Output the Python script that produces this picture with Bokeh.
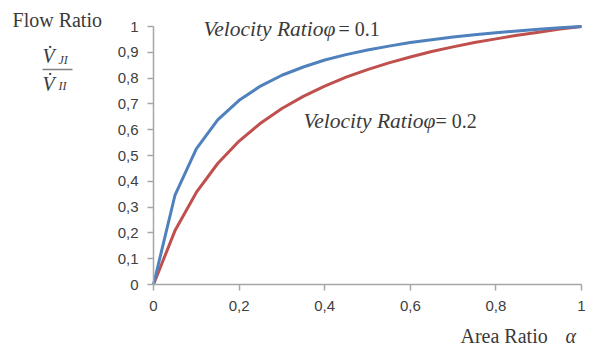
from bokeh.plotting import figure
from bokeh.models import Range1d, FixedTicker, Label, BoxAnnotation
from bokeh.embed import file_html
from bokeh.resources import INLINE

# ---- data ----
area_ratio = [0.0, 0.05, 0.1, 0.15, 0.2, 0.25, 0.3, 0.35, 0.4, 0.45, 0.5,
              0.55, 0.6, 0.65, 0.7, 0.75, 0.8, 0.85, 0.9, 0.95, 1.0]
flow_phi_01 = [0.0, 0.345, 0.526, 0.638, 0.714, 0.769, 0.811, 0.843, 0.870, 0.891, 0.909,
               0.924, 0.938, 0.949, 0.959, 0.968, 0.976, 0.983, 0.989, 0.995, 1.0]
flow_phi_02 = [0.0, 0.208, 0.357, 0.469, 0.556, 0.625, 0.682, 0.729, 0.769, 0.804, 0.833,
               0.859, 0.882, 0.903, 0.921, 0.938, 0.952, 0.966, 0.978, 0.990, 1.0]

x_ticks = [0.0, 0.2, 0.4, 0.6, 0.8, 1.0]
x_tick_labels = ["0", "0,2", "0,4", "0,6", "0,8", "1"]
y_ticks = [0.0, 0.1, 0.2, 0.3, 0.4, 0.5, 0.6, 0.7, 0.8, 0.9, 1.0]
y_tick_labels = ["0", "0,1", "0,2", "0,3", "0,4", "0,5", "0,6", "0,7", "0,8", "0,9", "1"]

label_phi_01 = "Velocity Ratio\u03c6"
value_phi_01 = "= 0.1"
label_phi_02 = "Velocity Ratio\u03c6"
value_phi_02 = "= 0.2"
y_title = "Flow Ratio"
y_num_sym, y_num_sub = "V\u0307", "JI"
y_den_sym, y_den_sub = "V\u0307", "II"
x_title = "Area Ratio"
x_symbol = "\u03b1"

BLUE = "#4f81bd"
RED = "#c0504d"
AXIS = "#a6a6a6"
TICKTXT = "#404040"
TXT = "#3a3a3a"
SERIF = "Liberation Serif"

# frame covers the whole canvas; the axes are pinned at data 0
p = figure(width=592, height=346, output_backend="svg", toolbar_location=None,
           x_range=Range1d(-0.3575, 1.0257), y_range=Range1d(-0.2403, 1.1008),
           min_border=0)
p.outline_line_color = None
p.xgrid.visible = False
p.ygrid.visible = False
p.background_fill_color = "white"
p.border_fill_color = "white"

p.line(area_ratio, flow_phi_02, line_color=RED, line_width=3)
p.line(area_ratio, flow_phi_01, line_color=BLUE, line_width=3)

for ax, ticks, labels in ((p.xaxis[0], x_ticks, x_tick_labels), (p.yaxis[0], y_ticks, y_tick_labels)):
    ax.fixed_location = 0
    ax.bounds = (0, 1)
    ax.ticker = FixedTicker(ticks=ticks)
    ax.major_label_overrides = {t: l for t, l in zip(ticks, labels)}
    ax.minor_tick_line_color = None
    ax.axis_line_color = AXIS
    ax.axis_line_width = 1.5
    ax.major_tick_line_color = AXIS
    ax.major_tick_line_width = 1.5
    ax.major_tick_in = 0
    ax.major_tick_out = 6
    ax.major_label_text_font = "Liberation Sans"
    ax.major_label_text_font_size = "15px"
    ax.major_label_text_color = TICKTXT

p.yaxis[0].major_label_standoff = 9
p.xaxis[0].major_label_standoff = 10

def lab(x, y, text, size="20px", style="normal", **kw):
    p.add_layout(Label(x=x, y=y, text=text, text_font=SERIF, text_font_size=size,
                       text_font_style=style, text_color=TXT, text_align="left",
                       text_baseline="alphabetic", **kw))

# in-plot annotations
lab(0.1168, 0.992, label_phi_01, size="21.5px", style="italic")
lab(0.4322, 0.992, value_phi_01)
lab(0.3505, 0.635, label_phi_02, size="21.5px", style="italic")
lab(0.6589, 0.635, value_phi_02)

# y title with fraction
lab(-0.3294, 1.027, y_title)
lab(-0.2593, 0.884, y_num_sym, style="italic")
lab(-0.2220, 0.872, y_num_sub, size="12px", style="italic")
p.add_layout(BoxAnnotation(left=-0.2593, right=-0.1893, bottom=0.8304, top=0.8362,
                           fill_color="#808080", fill_alpha=1, line_color=None))
lab(-0.2593, 0.779, y_den_sym, style="italic")
lab(-0.2220, 0.768, y_den_sub, size="12px", style="italic")

# x title
lab(0.7173, -0.198, x_title)
lab(0.9626, -0.198, x_symbol, style="italic")

open("out.html", "w").write(file_html(p, INLINE))
